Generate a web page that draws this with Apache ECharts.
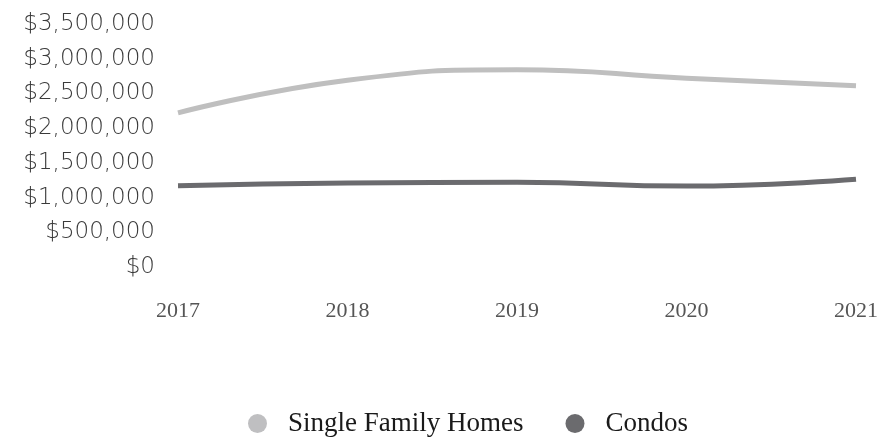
<!DOCTYPE html>
<html>
<head>
<meta charset="utf-8">
<script src="https://cdn.jsdelivr.net/npm/echarts@6/dist/echarts.min.js"></script>
<style>html,body{margin:0;padding:0;background:#fff;}#c{width:882px;height:440px;}</style>
</head>
<body>
<div id="c"></div>
<script>
var years = ['2017', '2018', '2019', '2020', '2021'];
var singleFamily = [2220000, 2690000, 2840000, 2720000, 2610000];
var condos = [1170000, 1210000, 1220000, 1165000, 1265000];
var yTicks = [0, 500000, 1000000, 1500000, 2000000, 2500000, 3000000, 3500000];

var chart = echarts.init(document.getElementById('c'));
chart.setOption({
  animation: false,
  grid: { left: 178, right: 26, top: 24, bottom: 173, containLabel: false },
  legend: {
    top: 405,
    left: 243,
    icon: 'circle',
    itemWidth: 19,
    itemHeight: 19,
    itemGap: 42,
    textStyle: { fontFamily: 'Liberation Serif', fontSize: 27, color: '#1a1a1a', padding: [0, 0, 0, 16] },
    data: ['Single Family Homes', 'Condos']
  },
  xAxis: {
    type: 'category',
    boundaryGap: false,
    data: years,
    axisLine: { show: false },
    axisTick: { show: false },
    axisLabel: { margin: 33, fontFamily: 'Liberation Serif', fontSize: 22, color: '#555' }
  },
  yAxis: {
    type: 'value',
    min: yTicks[0],
    max: yTicks[yTicks.length - 1],
    interval: yTicks[1] - yTicks[0],
    splitLine: { show: false },
    axisLine: { show: false },
    axisTick: { show: false },
    axisLabel: {
      margin: 23,
      fontFamily: '"DejaVu Sans ExtraLight", "DejaVu Sans"',
      fontWeight: 200,
      fontSize: 23,
      color: '#3a3a3a',
      formatter: function (v) { return '$' + v.toLocaleString('en-US'); }
    }
  },
  series: [
    {
      name: 'Single Family Homes', type: 'line', smooth: true, data: singleFamily,
      symbol: 'none', lineStyle: { width: 5, color: '#bfbfbf' }, itemStyle: { color: '#bfbfc1' }
    },
    {
      name: 'Condos', type: 'line', smooth: true, data: condos,
      symbol: 'none', lineStyle: { width: 5, color: '#6b6b6e' }, itemStyle: { color: '#6b6b6e' }
    }
  ]
});
</script>
</body>
</html>
